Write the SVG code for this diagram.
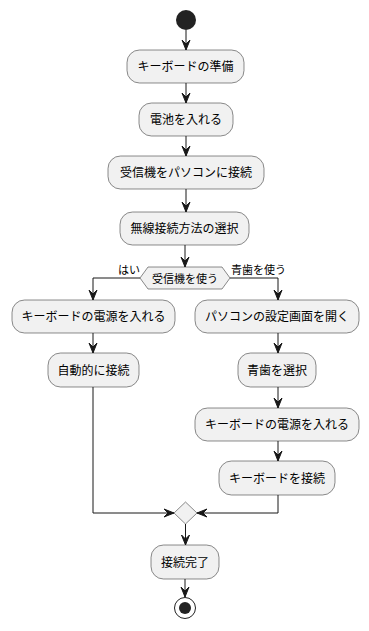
<svg xmlns="http://www.w3.org/2000/svg" width="369" height="631" viewBox="0 0 369 631">
<defs>
<style>
.box{fill:#F1F1F1;stroke:#181818;stroke-width:0.5}
.t{font-family:"Noto Sans CJK JP","Noto Sans",sans-serif;font-size:12px;fill:#000;text-anchor:middle}
.lb{font-family:"Noto Sans CJK JP","Noto Sans",sans-serif;font-size:11px;fill:#000}
.ln{fill:none;stroke:#181818;stroke-width:1}
.ah{fill:#181818;stroke:#181818;stroke-width:1}
</style>
</defs>
<rect width="369" height="631" fill="#FFFFFF"/>
<g id="start"><circle cx="186" cy="20" r="10" fill="#222222"/></g>
<g id="n1"><rect class="box" x="127" y="50" width="117" height="33" rx="12.5"/><text class="t" x="185.5" y="71">キーボードの準備</text></g>
<g id="n2"><rect class="box" x="139" y="103" width="94" height="33" rx="12.5"/><text class="t" x="186" y="124">電池を入れる</text></g>
<g id="n3"><rect class="box" x="108" y="156" width="156" height="33" rx="12.5"/><text class="t" x="186" y="177">受信機をパソコンに接続</text></g>
<g id="n4"><rect class="box" x="120" y="212" width="129" height="33" rx="12.5"/><text class="t" x="184.5" y="233">無線接続方法の選択</text></g>
<g id="d1"><polygon class="box" points="140,278 148,267 222,267 230,278 222,289 148,289"/><text class="t" x="185" y="282.5" style="font-size:11px">受信機を使う</text></g>
<g id="l1"><rect class="box" x="12" y="300" width="163" height="33" rx="12.5"/><text class="t" x="93.5" y="321">キーボードの電源を入れる</text></g>
<g id="l2"><rect class="box" x="48" y="353" width="91" height="34" rx="12.5"/><text class="t" x="93.5" y="374.5">自動的に接続</text></g>
<g id="r1"><rect class="box" x="195" y="300" width="164" height="33" rx="12.5"/><text class="t" x="277" y="321">パソコンの設定画面を開く</text></g>
<g id="r2"><rect class="box" x="238" y="353" width="78" height="34" rx="12.5"/><text class="t" x="277" y="374.5">青歯を選択</text></g>
<g id="r3"><rect class="box" x="195" y="408" width="164" height="33" rx="12.5"/><text class="t" x="277" y="429">キーボードの電源を入れる</text></g>
<g id="r4"><rect class="box" x="219" y="461" width="116" height="34" rx="12.5"/><text class="t" x="277" y="482.5">キーボードを接続</text></g>
<g id="d2"><polygon class="box" points="174,513 185.5,502 197,513 185.5,524"/></g>
<g id="n5"><rect class="box" x="151" y="545" width="68" height="34" rx="12.5"/><text class="t" x="185" y="566.5">接続完了</text></g>
<g id="end"><circle cx="185" cy="608" r="10.5" fill="none" stroke="#222222" stroke-width="1"/><circle cx="185" cy="608" r="6" fill="#222222"/></g>
<g id="connectors">
<path class="ln" d="M186,30 V50 M186,83 V103 M186,136 V156 M186,189 V212 M185,245 V267 M140,278 H93 V300 M230,278 H278 V300 M93,333 V353 M278,333 V353 M278,387 V408 M278,441 V461 M93,387 V513 H174 M278,495 V513 H197 M185.5,524 V545 M185,579 V597"/>
<polygon class="ah" points="182,40 186,50 190,40 186,44"/>
<polygon class="ah" points="182,93 186,103 190,93 186,97"/>
<polygon class="ah" points="182,146 186,156 190,146 186,150"/>
<polygon class="ah" points="182,202 186,212 190,202 186,206"/>
<polygon class="ah" points="181,257 185,267 189,257 185,261"/>
<polygon class="ah" points="89,290 93,300 97,290 93,294"/>
<polygon class="ah" points="274,290 278,300 282,290 278,294"/>
<polygon class="ah" points="89,343 93,353 97,343 93,347"/>
<polygon class="ah" points="274,343 278,353 282,343 278,347"/>
<polygon class="ah" points="274,398 278,408 282,398 278,402"/>
<polygon class="ah" points="274,451 278,461 282,451 278,455"/>
<polygon class="ah" points="164,509 174,513 164,517 168,513"/>
<polygon class="ah" points="207,509 197,513 207,517 203,513"/>
<polygon class="ah" points="181.5,535 185.5,545 189.5,535 185.5,539"/>
<polygon class="ah" points="181,587 185,597 189,587 185,591"/>
<text class="lb" x="118" y="274">はい</text>
<text class="lb" x="231" y="274">青歯を使う</text>
</g>
</svg>
